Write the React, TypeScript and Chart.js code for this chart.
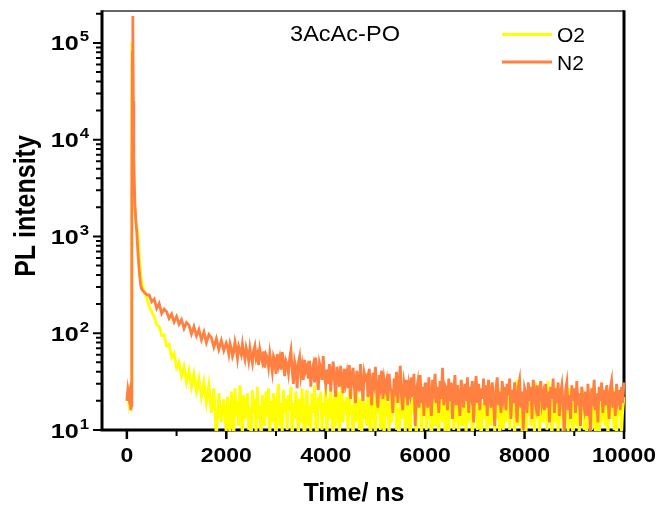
import React, { useEffect, useRef } from 'react';
import { Chart, registerables } from 'chart.js';

Chart.register(...registerables);

// ---------- data ----------
const earlyTimesNs = [0, 20, 40, 60, 80, 90, 100, 110, 120, 130, 140, 160, 180, 200, 220, 240, 260, 280, 300, 350, 400];

const midTimesNs = [
  450, 500, 550, 600, 650, 700, 750, 800, 850, 900,
  950, 1000, 1050, 1100, 1150, 1200, 1250, 1300, 1350, 1400,
  1450, 1500, 1550, 1600, 1650, 1700, 1750, 1800, 1850, 1900,
  1950, 2000,
];

const lateTimesNs = [
  2025, 2050, 2075, 2100, 2125, 2150, 2175, 2200, 2225, 2250, 2275, 2300, 2325, 2350, 2375, 2400,
  2425, 2450, 2475, 2500, 2525, 2550, 2575, 2600, 2625, 2650, 2675, 2700, 2725, 2750, 2775, 2800,
  2825, 2850, 2875, 2900, 2925, 2950, 2975, 3000, 3025, 3050, 3075, 3100, 3125, 3150, 3175, 3200,
  3225, 3250, 3275, 3300, 3325, 3350, 3375, 3400, 3425, 3450, 3475, 3500, 3525, 3550, 3575, 3600,
  3625, 3650, 3675, 3700, 3725, 3750, 3775, 3800, 3825, 3850, 3875, 3900, 3925, 3950, 3975, 4000,
  4025, 4050, 4075, 4100, 4125, 4150, 4175, 4200, 4225, 4250, 4275, 4300, 4325, 4350, 4375, 4400,
  4425, 4450, 4475, 4500, 4525, 4550, 4575, 4600, 4625, 4650, 4675, 4700, 4725, 4750, 4775, 4800,
  4825, 4850, 4875, 4900, 4925, 4950, 4975, 5000, 5025, 5050, 5075, 5100, 5125, 5150, 5175, 5200,
  5225, 5250, 5275, 5300, 5325, 5350, 5375, 5400, 5425, 5450, 5475, 5500, 5525, 5550, 5575, 5600,
  5625, 5650, 5675, 5700, 5725, 5750, 5775, 5800, 5825, 5850, 5875, 5900, 5925, 5950, 5975, 6000,
  6025, 6050, 6075, 6100, 6125, 6150, 6175, 6200, 6225, 6250, 6275, 6300, 6325, 6350, 6375, 6400,
  6425, 6450, 6475, 6500, 6525, 6550, 6575, 6600, 6625, 6650, 6675, 6700, 6725, 6750, 6775, 6800,
  6825, 6850, 6875, 6900, 6925, 6950, 6975, 7000, 7025, 7050, 7075, 7100, 7125, 7150, 7175, 7200,
  7225, 7250, 7275, 7300, 7325, 7350, 7375, 7400, 7425, 7450, 7475, 7500, 7525, 7550, 7575, 7600,
  7625, 7650, 7675, 7700, 7725, 7750, 7775, 7800, 7825, 7850, 7875, 7900, 7925, 7950, 7975, 8000,
  8025, 8050, 8075, 8100, 8125, 8150, 8175, 8200, 8225, 8250, 8275, 8300, 8325, 8350, 8375, 8400,
  8425, 8450, 8475, 8500, 8525, 8550, 8575, 8600, 8625, 8650, 8675, 8700, 8725, 8750, 8775, 8800,
  8825, 8850, 8875, 8900, 8925, 8950, 8975, 9000, 9025, 9050, 9075, 9100, 9125, 9150, 9175, 9200,
  9225, 9250, 9275, 9300, 9325, 9350, 9375, 9400, 9425, 9450, 9475, 9500, 9525, 9550, 9575, 9600,
  9625, 9650, 9675, 9700, 9725, 9750, 9775, 9800, 9825, 9850, 9875, 9900, 9925, 9950, 9975, 10000,
];

// O2 (yellow)
const o2Early = [21, 24, 19, 23, 20, 25, 100000, 45000, 15000, 6000, 3500, 2000, 1500, 1250, 1100, 760, 530, 400, 335, 268, 228];
const o2Mid = [
  190, 166, 148, 122, 117, 95, 96, 74, 77, 56,
  62, 44, 50, 36, 45, 31, 41, 28, 38, 25,
  34, 22, 31, 19, 29, 15, 27, 8, 24, 12,
  21, 9,
];
const o2Late = [
  22, 12, 9, 25, 18, 7, 27, 14, 20, 11, 29, 16, 8, 23, 13, 19,
  24, 10, 17, 6, 26, 15, 21, 9, 28, 13, 18, 7, 23, 16, 11, 25,
  14, 27, 8, 20, 12, 24, 17, 6, 22, 30, 11, 19, 9, 26, 15, 21,
  10, 23, 16, 28, 7, 19, 13, 25, 18, 8, 21, 12, 27, 14, 6, 20,
  26, 11, 18, 9, 24, 15, 29, 12, 7, 22, 17, 25, 10, 19, 14, 28,
  8, 21, 13, 27, 16, 6, 23, 11, 19, 25, 9, 17, 30, 12, 20, 15,
  22, 9, 26, 14, 18, 7, 24, 12, 28, 16, 10, 21, 8, 25, 13, 19,
  11, 24, 17, 6, 20, 27, 13, 9, 23, 15, 29, 10, 18, 22, 7, 26,
  14, 19, 8, 25, 12, 21, 16, 28, 10, 17, 6, 23, 13, 20, 27, 9,
  24, 11, 18, 7, 22, 15, 26, 12, 9, 21, 17, 28, 8, 19, 14, 23,
  10, 25, 13, 20, 6, 17, 27, 11, 22, 15, 8, 24, 18, 12, 26, 9,
  21, 14, 7, 23, 16, 28, 10, 19, 12, 25, 8, 17, 22, 11, 20, 15,
  9, 26, 12, 18, 24, 7, 21, 14, 29, 10, 16, 23, 6, 19, 13, 27,
  17, 8, 22, 15, 11, 25, 18, 9, 20, 13, 27, 7, 24, 16, 10, 21,
  12, 23, 30, 10, 19, 14, 26, 8, 21, 33, 11, 18, 24, 9, 16, 22,
  7, 20, 14, 28, 11, 24, 17, 9, 31, 13, 22, 8, 19, 26, 12, 16,
  23, 10, 32, 15, 19, 7, 25, 12, 28, 16, 9, 21, 13, 24, 8, 18,
  14, 22, 9, 27, 12, 19, 6, 24, 16, 11, 23, 8, 20, 15, 26, 10,
  18, 7, 21, 13, 25, 10, 16, 28, 9, 20, 14, 6, 23, 12, 19, 15,
  11, 24, 8, 17, 22, 13, 27, 10, 19, 7, 25, 14, 21, 9, 16, 22,
];

// N2 (orange)
const n2Early = [20, 26, 22, 25, 16, 18, 2500, 80000, 190000, 25000, 6000, 2300, 1450, 1100, 720, 500, 380, 310, 285, 265, 250];
const n2Mid = [
  248, 212, 226, 181, 203, 160, 178, 167, 142, 158,
  131, 149, 124, 138, 112, 129, 121, 98, 117, 94,
  109, 86, 103, 80, 97, 90, 72, 88, 68, 84,
  66, 79,
];
const n2Late = [
  72, 61, 78, 70, 58, 64, 81, 69, 55, 73, 66, 60, 77, 62, 54, 71,
  63, 52, 70, 57, 49, 66, 74, 55, 61, 47, 68, 58, 51, 65, 44, 60,
  56, 45, 62, 50, 40, 58, 53, 38, 61, 47, 55, 42, 64, 49, 36, 52,
  48, 39, 55, 66, 42, 30, 51, 44, 27, 49, 57, 37, 46, 33, 53, 41,
  45, 34, 52, 28, 41, 47, 31, 56, 38, 26, 49, 43, 33, 58, 36, 29,
  42, 30, 48, 25, 39, 51, 33, 22, 45, 37, 28, 46, 34, 24, 43, 31,
  38, 27, 47, 21, 35, 44, 29, 19, 41, 33, 25, 48, 30, 20, 39, 34,
  36, 22, 43, 28, 18, 39, 31, 45, 24, 17, 37, 29, 41, 21, 33, 27,
  32, 20, 38, 27, 25, 15, 34, 28, 40, 19, 30, 46, 22, 16, 31, 26,
  33, 18, 29, 24, 35, 22, 38, 11, 26, 31, 17, 37, 19, 28, 14, 30,
  30, 17, 35, 22, 14, 33, 26, 38, 19, 28, 15, 32, 21, 44, 18, 29,
  27, 16, 34, 20, 31, 13, 25, 37, 18, 29, 22, 14, 33, 24, 17, 30,
  20, 35, 15, 28, 23, 32, 12, 26, 36, 19, 30, 16, 27, 21, 34, 18,
  29, 14, 33, 24, 17, 31, 20, 11, 27, 35, 18, 25, 15, 32, 22, 28,
  16, 30, 23, 34, 13, 26, 19, 31, 21, 12, 28, 33, 17, 25, 10, 27,
  24, 15, 31, 20, 28, 13, 33, 22, 18, 29, 14, 26, 32, 19, 23, 16,
  30, 17, 25, 12, 28, 21, 34, 15, 27, 19, 31, 14, 24, 29, 18, 9,
  26, 31, 16, 23, 13, 29, 20, 27, 15, 32, 18, 24, 11, 28, 21, 17,
  25, 14, 30, 19, 9, 27, 22, 33, 16, 24, 12, 28, 20, 31, 15, 26,
  18, 29, 23, 13, 27, 32, 17, 25, 14, 30, 21, 26, 16, 28, 19, 31,
];

const xMajorTicks = [0, 2000, 4000, 6000, 8000, 10000];
const xMinorTicks = [1000, 3000, 5000, 7000, 9000];
const yExponents = [1, 2, 3, 4, 5];
const yMinorMantissas = [2, 3, 4, 5, 6, 7, 8, 9];
const seriesNames = ['O2', 'N2'];
const seriesColors = ['#FFFF00', '#FF8040'];
const chartTitle = '3AcAc-PO';
const xTitle = 'Time/ ns';
const yTitle = 'PL intensity';

const FONT = '"Liberation Sans", Arial, Helvetica, sans-serif';

function drawText(
  ctx: CanvasRenderingContext2D,
  s: string,
  x: number,
  y: number,
  font: string,
  align: CanvasTextAlign,
  sx = 1
) {
  ctx.save();
  ctx.translate(x, y);
  ctx.scale(sx, 1);
  ctx.font = font;
  ctx.textAlign = align;
  ctx.textBaseline = 'alphabetic';
  ctx.fillStyle = '#000';
  ctx.fillText(s, 0, 0);
  ctx.restore();
}

const decorPlugin = {
  id: 'decor',
  beforeDatasetsDraw(chart: any) {
    const { ctx, chartArea: a } = chart;
    ctx.save();
    ctx.lineCap = 'butt';
    ctx.strokeStyle = '#333';
    ctx.lineWidth = 1.5;
    ctx.beginPath();
    ctx.moveTo(a.left, a.top);
    ctx.lineTo(a.right, a.top);
    ctx.stroke();
    ctx.strokeStyle = '#000';
    ctx.lineWidth = 3;
    ctx.beginPath();
    ctx.moveTo(a.left, a.top - 0.75);
    ctx.lineTo(a.left, a.bottom + 1.5);
    ctx.moveTo(a.left - 1.5, a.bottom);
    ctx.lineTo(a.right + 1.5, a.bottom);
    ctx.moveTo(a.right, a.bottom + 1.5);
    ctx.lineTo(a.right, a.top - 0.75);
    ctx.stroke();
    ctx.restore();
  },
  afterDraw(chart: any) {
    const { ctx, chartArea: a } = chart;
    const xs = chart.scales.x;
    const ys = chart.scales.y;
    ctx.save();
    ctx.strokeStyle = '#000';
    ctx.lineCap = 'butt';

    // x ticks
    ctx.lineWidth = 2.5;
    ctx.beginPath();
    xMajorTicks.forEach((v) => {
      const px = xs.getPixelForValue(v);
      ctx.moveTo(px, a.bottom + 1);
      ctx.lineTo(px, a.bottom + 9);
    });
    ctx.stroke();
    ctx.lineWidth = 2;
    ctx.beginPath();
    xMinorTicks.forEach((v) => {
      const px = xs.getPixelForValue(v);
      ctx.moveTo(px, a.bottom + 1);
      ctx.lineTo(px, a.bottom + 6);
    });
    ctx.stroke();

    // y ticks
    ctx.lineWidth = 2;
    ctx.beginPath();
    yExponents.forEach((e) => {
      const py = ys.getPixelForValue(Math.pow(10, e));
      ctx.moveTo(a.left - 1, py);
      ctx.lineTo(a.left - 9, py);
      yMinorMantissas.forEach((m) => {
        const v = m * Math.pow(10, e);
        if (v <= ys.max) {
          const pm = ys.getPixelForValue(v);
          ctx.moveTo(a.left - 1, pm);
          ctx.lineTo(a.left - 6, pm);
        }
      });
    });
    ctx.stroke();

    // x tick labels
    xMajorTicks.forEach((v) => {
      const px = xs.getPixelForValue(v);
      drawText(ctx, String(v), px, a.bottom + 32, `bold 20px ${FONT}`, 'center', 1.15);
    });

    // y tick labels 10^n
    const sx = 1.2;
    yExponents.forEach((e) => {
      const py = ys.getPixelForValue(Math.pow(10, e));
      ctx.font = `bold 14px ${FONT}`;
      const wSup = ctx.measureText(String(e)).width * sx;
      ctx.font = `bold 21px ${FONT}`;
      const wBase = ctx.measureText('10').width * sx;
      const right = a.left - 13;
      drawText(ctx, '10', right - wSup - 1 - wBase, py + 7.5, `bold 21px ${FONT}`, 'left', sx);
      drawText(ctx, String(e), right - wSup, py - 1.5, `bold 14px ${FONT}`, 'left', sx);
    });

    // axis titles
    drawText(ctx, xTitle, 354, 501, `bold 25px ${FONT}`, 'center', 1);
    ctx.save();
    ctx.translate(26, 206);
    ctx.rotate(-Math.PI / 2);
    ctx.scale(1, 1.15);
    ctx.font = `bold 25px ${FONT}`;
    ctx.textAlign = 'center';
    ctx.textBaseline = 'alphabetic';
    ctx.fillStyle = '#000';
    ctx.fillText(yTitle, 0, 8);
    ctx.restore();

    // chart title
    drawText(ctx, chartTitle, 345, 41, `22px ${FONT}`, 'center', 1.07);

    // legend
    const legendY = [34.5, 62];
    seriesNames.forEach((name, i) => {
      ctx.strokeStyle = seriesColors[i];
      ctx.lineWidth = 3;
      ctx.beginPath();
      ctx.moveTo(502, legendY[i]);
      ctx.lineTo(552, legendY[i]);
      ctx.stroke();
      drawText(ctx, name, 557, legendY[i] + 7.5, `21px ${FONT}`, 'left', 1);
    });
    ctx.restore();
  },
};

export default function App() {
  const canvasRef = useRef<HTMLCanvasElement | null>(null);

  useEffect(() => {
    const canvas = canvasRef.current;
    if (!canvas) return;
    const times = [...earlyTimesNs, ...midTimesNs, ...lateTimesNs];
    const o2 = [...o2Early, ...o2Mid, ...o2Late];
    const n2 = [...n2Early, ...n2Mid, ...n2Late];
    const o2Points = times.map((t, i) => ({ x: t, y: o2[i] }));
    const n2Points = times.map((t, i) => ({ x: t, y: n2[i] }));

    const common = {
      borderWidth: 2.8,
      pointRadius: 0,
      tension: 0,
      fill: false,
      clip: 1,
      borderJoinStyle: 'miter' as const,
    };

    const chart = new Chart(canvas, {
      type: 'line',
      data: {
        datasets: [
          {
            ...common,
            label: seriesNames[1],
            data: n2Points,
            borderColor: seriesColors[1],
            backgroundColor: seriesColors[1],
            order: 0,
          },
          {
            ...common,
            label: seriesNames[0],
            data: o2Points,
            borderColor: seriesColors[0],
            backgroundColor: seriesColors[0],
            order: 1,
          },
        ],
      },
      options: {
        animation: false,
        responsive: false,
        events: [],
        layout: { padding: { left: 102, right: 36, top: 11, bottom: 78 } },
        scales: {
          x: { type: 'linear', min: -500, max: 10000, display: false },
          y: { type: 'logarithmic', min: 10, max: 214000, display: false },
        },
        plugins: {
          legend: { display: false },
          tooltip: { enabled: false },
          title: { display: false },
        },
      },
      plugins: [decorPlugin],
    } as any);

    return () => chart.destroy();
  }, []);

  return (
    <div style={{ position: 'absolute', left: 0, top: 0, width: 660, height: 508, background: '#fff' }}>
      <canvas ref={canvasRef} width={660} height={508} style={{ display: 'block' }} />
    </div>
  );
}
